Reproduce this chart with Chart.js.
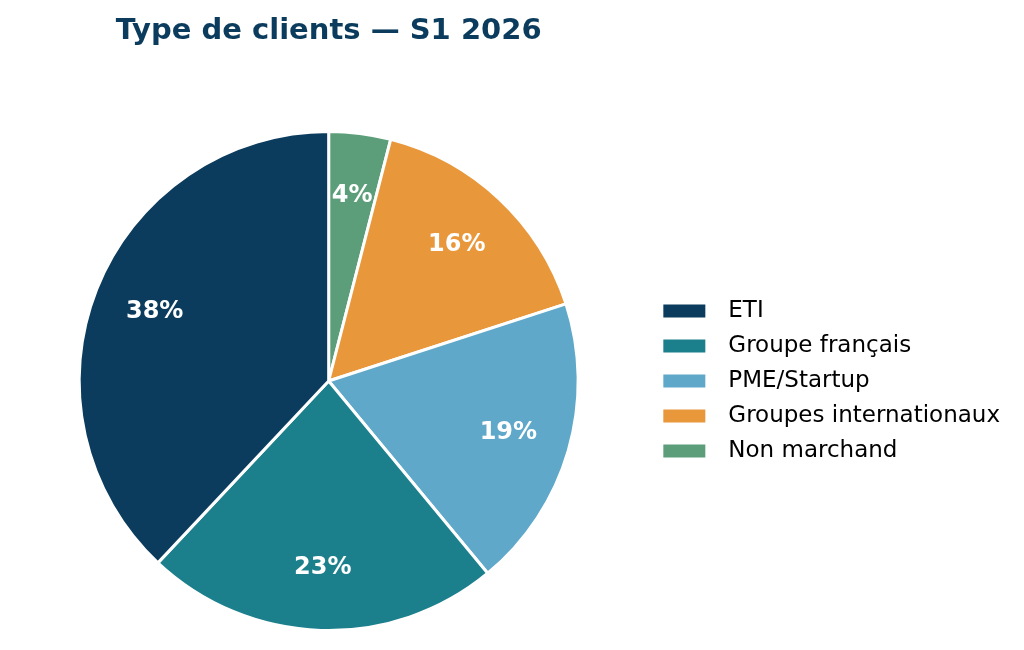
<!DOCTYPE html>
<html>
<head>
<meta charset="utf-8">
<script src="https://cdn.jsdelivr.net/npm/chart.js@4.4.1/dist/chart.umd.min.js"></script>
<style>
    html, body { margin: 0; padding: 0; background: #ffffff; }
    #wrap { width: 1024px; height: 650px; position: relative; }
</style>
</head>
<body>
<div id="wrap"><canvas id="clientChart"></canvas></div>
<script>
// ===================================
// DATA
// ===================================

const titleText = 'Type de clients \u2014 S1 2026';

// legend order (as read in the picture)
const categories = ['ETI', 'Groupe français', 'PME/Startup', 'Groupes internationaux', 'Non marchand'];
const shares = [38, 23, 19, 16, 4];
const sliceColors = ['#0b3c5d', '#1c7f8c', '#5fa8c9', '#e8973b', '#5c9e7a'];

// slices run counter-clockwise in the picture, so feed them reversed (Chart.js draws clockwise)
const drawLabels = categories.slice().reverse();
const drawValues = shares.slice().reverse();
const drawColors = sliceColors.slice().reverse();

const FONT = "'DejaVu Sans', sans-serif";

// Title centred over the pie, not over the whole canvas
const pieTitle = {
    id: 'pieTitle',
    afterDraw(chart) {
        const ctx = chart.ctx;
        const area = chart.chartArea;
        ctx.save();
        ctx.font = 'bold 29px ' + FONT;
        ctx.fillStyle = '#0b3c5d';
        ctx.textAlign = 'center';
        ctx.textBaseline = 'middle';
        ctx.fillText(titleText, (area.left + area.right) / 2, 31);
        ctx.restore();
    }
};

// Percent labels inside each slice
const pctLabels = {
    id: 'pctLabels',
    afterDatasetsDraw(chart) {
        const ctx = chart.ctx;
        const meta = chart.getDatasetMeta(0);
        const data = chart.data.datasets[0].data;
        const total = data.reduce((a, b) => a + b, 0);
        ctx.save();
        ctx.font = 'bold 24px ' + FONT;
        ctx.fillStyle = '#ffffff';
        ctx.textAlign = 'center';
        ctx.textBaseline = 'middle';
        meta.data.forEach((arc, i) => {
            const p = arc.getProps(['x', 'y', 'startAngle', 'endAngle', 'outerRadius'], true);
            const mid = (p.startAngle + p.endAngle) / 2;
            const r = p.outerRadius * 0.75;
            const pct = Math.round(data[i] / total * 100) + '%';
            ctx.fillText(pct, p.x + Math.cos(mid) * r, p.y + Math.sin(mid) * r);
        });
        ctx.restore();
    }
};

document.addEventListener('DOMContentLoaded', () => {
    Chart.defaults.font.family = FONT;

    new Chart(document.getElementById('clientChart').getContext('2d'), {
        type: 'pie',
        data: {
            labels: drawLabels,
            datasets: [{
                data: drawValues,
                backgroundColor: drawColors,
                borderColor: '#ffffff',
                borderWidth: 3
            }]
        },
        options: {
            responsive: true,
            maintainAspectRatio: false,
            animation: false,
            layout: { padding: { left: 6, right: 14, top: 130, bottom: 18 } },
            plugins: {
                title: { display: false },
                tooltip: { enabled: false },
                legend: {
                    position: 'right',
                    align: 'center',
                    reverse: true,
                    labels: {
                        color: '#000000',
                        font: { size: 23, family: FONT },
                        boxWidth: 42,
                        boxHeight: 13,
                        padding: 12,
                        generateLabels(chart) {
                            const items = Chart.overrides.pie.plugins.legend.labels.generateLabels(chart);
                            items.forEach(it => {
                                it.lineWidth = 0;
                                it.strokeStyle = 'rgba(0,0,0,0)';
                                // wider gap between swatch and text
                                it.text = '\u2002' + it.text;
                            });
                            return items;
                        }
                    }
                }
            }
        },
        plugins: [pieTitle, pctLabels]
    });
});
</script>
</body>
</html>
